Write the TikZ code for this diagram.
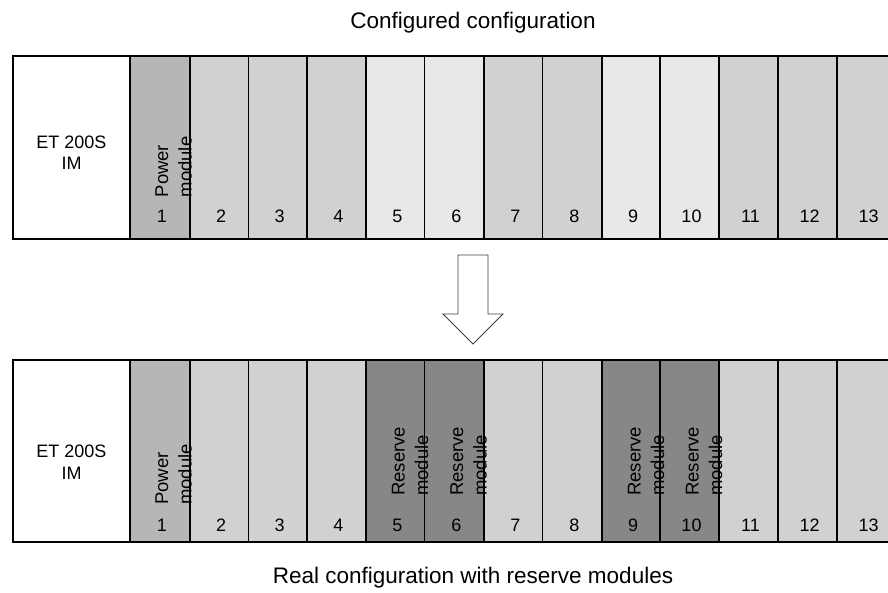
\documentclass[tikz,border=0pt]{standalone}
\usepackage{fontspec}
\setmainfont{Liberation Sans}
\definecolor{pwr}{HTML}{B6B6B6}
\definecolor{mid}{HTML}{D0D1D1}
\definecolor{lite}{HTML}{E8E8E8}
\definecolor{res}{HTML}{878787}
\definecolor{arr}{HTML}{404040}
\begin{document}
\begin{tikzpicture}[x=1pt,y=-1pt,
  box/.style={draw=black,line width=1.4pt,inner sep=0,outer sep=0,anchor=north west},
  lbl/.style={font=\fontsize{18}{21.5}\selectfont,inner sep=0},
  vlbl/.style={font=\fontsize{18.5}{23.5}\selectfont,inner sep=0,rotate=90,anchor=west,align=left},
  ttl/.style={font=\fontsize{22.5}{27}\selectfont,inner sep=0,anchor=base},
  arrowshape/.style={draw=arr,line width=0.9pt,fill=white}]
\useasboundingbox (0,0) rectangle (888,592);
\clip (0,0) rectangle (888,592);
% titles
\node[ttl] (title1) at (473,28) {Configured configuration};
\node[ttl] (title2) at (473,583) {Real configuration with reserve modules};
% interface modules
\node[box,fill=white,minimum width=117pt,minimum height=183pt] (tim) at (13,56) {};
\node[box,fill=white,minimum width=117pt,minimum height=182pt] (bim) at (13,360) {};
\node[lbl,align=center] (timt) at (71.5,152.5) {ET 200S\\IM};
\node[lbl,align=center] (bimt) at (71.5,462) {ET 200S\\IM};
% top row
\foreach \i/\xa/\w/\c in {1/130/60/pwr,2/190/58.5/mid,3/248.5/58.5/mid,4/307/59/mid,5/366/58.5/lite,6/424.5/59.5/lite,7/484/58.5/mid,8/542.5/59.5/mid,9/602/58/lite,10/660/59/lite,11/719/59/mid,12/778/59/mid,13/837/59/mid}{
  \node[box,fill=\c,minimum width=\w pt,minimum height=183pt] (t\i) at (\xa,56) {};
  \node[lbl] (tn\i) at ([xshift=2pt,yshift=22.5pt]t\i.south) {\i};
}
% bottom row
\foreach \i/\xa/\w/\c in {1/130/60/pwr,2/190/58.5/mid,3/248.5/58.5/mid,4/307/59/mid,5/366/58.5/res,6/424.5/59.5/res,7/484/58.5/mid,8/542.5/59.5/mid,9/602/58/res,10/660/59/res,11/719/59/mid,12/778/59/mid,13/837/59/mid}{
  \node[box,fill=\c,minimum width=\w pt,minimum height=182pt] (b\i) at (\xa,360) {};
  \node[lbl] (bn\i) at ([xshift=2pt,yshift=17pt]b\i.south) {\i};
}
% rotated labels
\node[vlbl] (tp) at (173.5,197.5) {Power\\module};
\node[vlbl] (bp) at (173.5,505) {Power\\module};
\node[vlbl] (r5) at (410,496) {Reserve\\module};
\node[vlbl] (r6) at (468.5,496) {Reserve\\module};
\node[vlbl] (r9) at (646,496) {Reserve\\module};
\node[vlbl] (r10) at (704,496) {Reserve\\module};
% block arrow
\draw[arrowshape] (458,255) -- (488,255) -- (488,314) -- (503,314) -- (473,344) -- (443,314) -- (458,314) -- cycle;
\end{tikzpicture}
\end{document}
